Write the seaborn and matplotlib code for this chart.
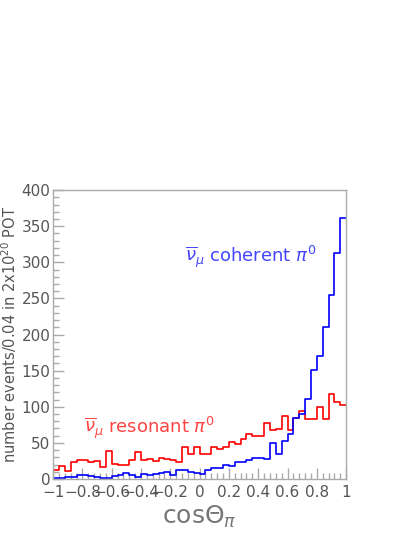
import seaborn as sns
import matplotlib.pyplot as plt
from matplotlib.ticker import MultipleLocator
import numpy as np
import pandas as pd

# 50 bins of width 0.04 between -1 and 1
n_bins = 50
bin_centers = np.linspace(-0.98, 0.98, n_bins)

coherent = [2, 2, 3, 3, 5, 6, 4, 3, 2, 2,
            4, 6, 8, 5, 3, 7, 6, 7, 8, 10,
            5, 12, 12, 10, 9, 7, 12, 15, 15, 19,
            18, 23, 24, 26, 29, 29, 28, 50, 35, 53,
            63, 85, 90, 111, 151, 170, 210, 255, 313, 361]

resonant = [12, 18, 11, 24, 27, 27, 24, 25, 17, 39,
            21, 19, 20, 27, 37, 27, 28, 25, 29, 28,
            27, 24, 45, 35, 45, 35, 35, 44, 42, 45,
            51, 48, 56, 62, 59, 60, 77, 68, 69, 87,
            68, 84, 94, 83, 83, 99, 83, 117, 106, 103]

df = pd.DataFrame({"cos": np.concatenate([bin_centers, bin_centers]),
                   "n": coherent + resonant,
                   "sample": ["coherent"] * n_bins + ["resonant"] * n_bins})

sns.set_style("white")
plt.rcParams['font.family'] = ['DejaVu Sans']

fig = plt.figure(figsize=(4.15, 5.37), dpi=100)
ax = fig.add_axes([0.128, 0.108, 0.706, 0.538])

sns.histplot(data=df, x="cos", weights="n", hue="sample", bins=n_bins, binrange=(-1, 1),
             element="step", fill=False, palette={"coherent": "#0000ff", "resonant": "#ff0000"},
             linewidth=1.2, legend=False, ax=ax)

ax.set_xlim(-1, 1)
ax.set_ylim(0, 400)

for s in ax.spines.values():
    s.set_color("#aaaaaa")
    s.set_linewidth(1.0)

ax.xaxis.set_major_locator(MultipleLocator(0.2))
ax.xaxis.set_minor_locator(MultipleLocator(0.04))
ax.yaxis.set_major_locator(MultipleLocator(50))
ax.yaxis.set_minor_locator(MultipleLocator(10))
ax.tick_params(axis="both", which="both", direction="in", colors="#aaaaaa",
               labelcolor="#555555", labelsize=11, top=False, right=False,
               bottom=True, left=True)
ax.tick_params(which="major", length=8, width=1)
ax.tick_params(which="minor", length=4, width=1)
ax.tick_params(axis="x", pad=4)
ax.tick_params(axis="y", pad=2)
ax.set_xticks(np.round(np.arange(-1, 1.01, 0.2), 1))
ax.set_xticklabels(["\u22121", "\u22120.8", "\u22120.6", "\u22120.4", "\u22120.2", "0",
                    "0.2", "0.4", "0.6", "0.8", "1"])

ax.set_xlabel(r"cos$\Theta_{\pi}$", fontsize=18, color="#777777", labelpad=3)
ax.set_ylabel(r"number events/0.04 in 2x10$^{20}$ POT", fontsize=10.5, color="#555555", labelpad=2)

ax.text(-0.1, 300, r"$\overline{\nu}_{\mu}$ coherent $\pi^{0}$", color="#4444ff", fontsize=13)
ax.text(-0.79, 64, r"$\overline{\nu}_{\mu}$ resonant $\pi^{0}$", color="#ff4444", fontsize=13)

plt.savefig("out.png", dpi=100)
